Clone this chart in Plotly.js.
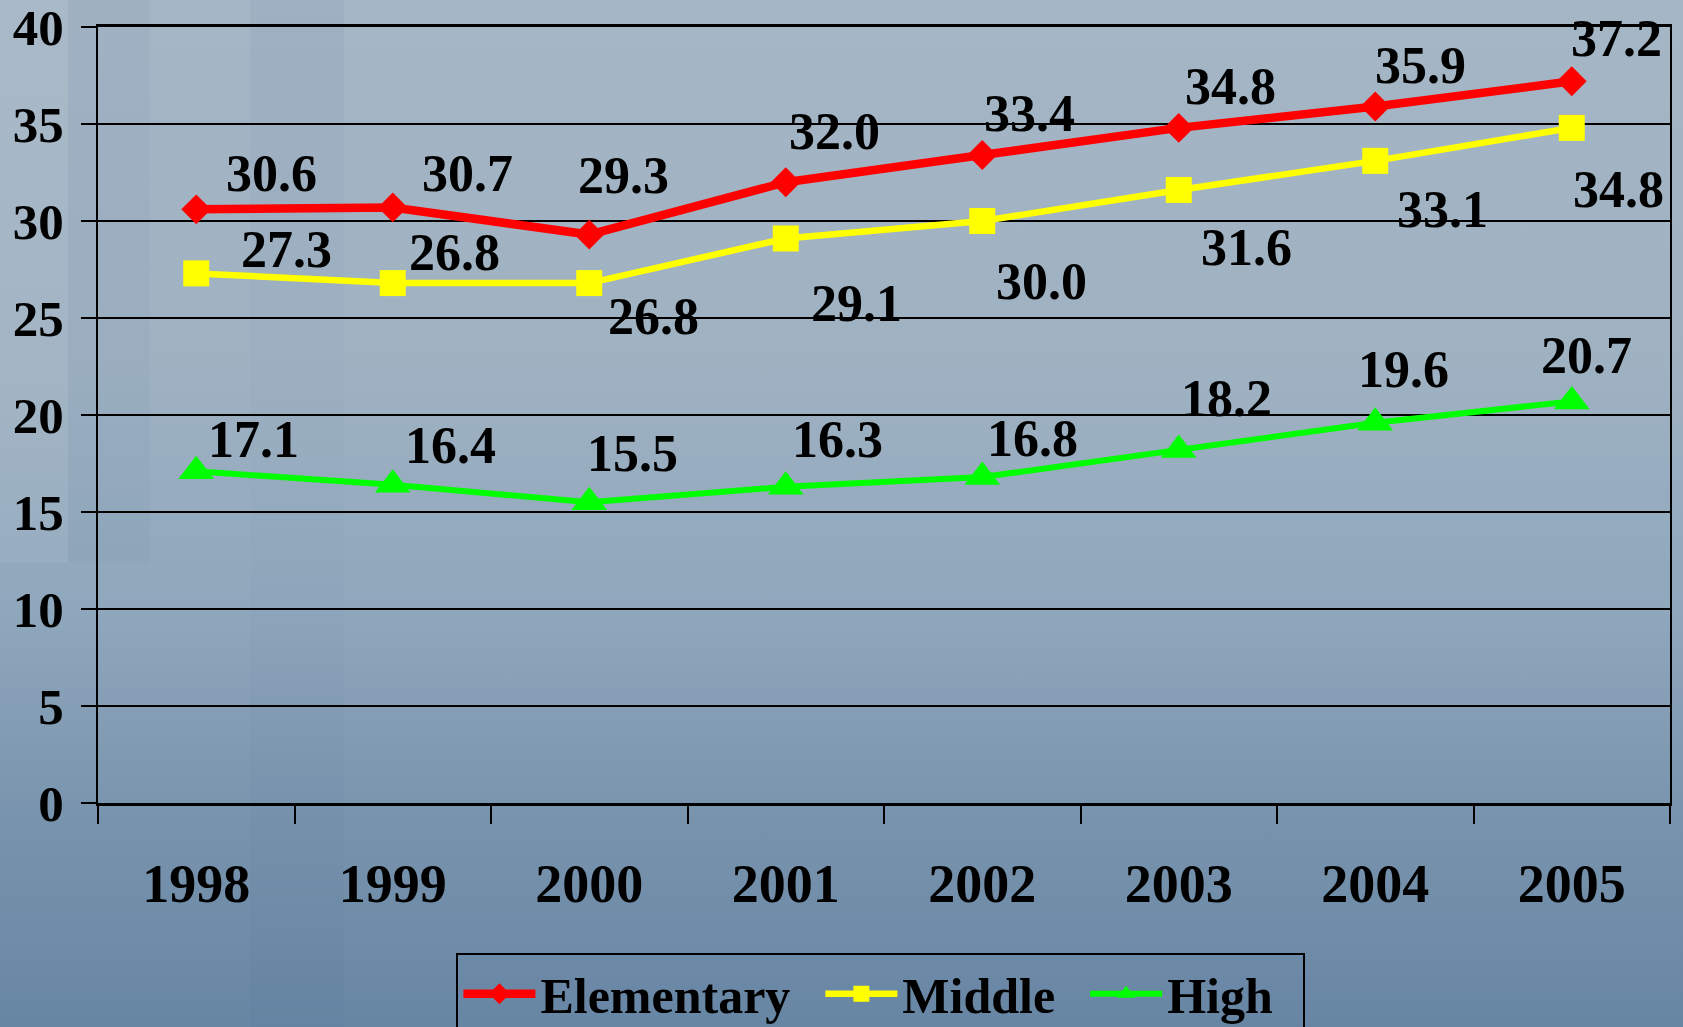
<!DOCTYPE html>
<html>
<head>
<meta charset="utf-8">
<script src="https://cdn.plot.ly/plotly-3.0.1.min.js"></script>
<style>
html,body{margin:0;padding:0;width:1683px;height:1027px;overflow:hidden;}
body{position:relative;background:linear-gradient(to bottom,#a5b6c5 0%,#9fb2c2 35%,#8fa7bc 60%,#7893ad 80%,#6786a4 100%);}
.band{position:absolute;pointer-events:none;}
#chart{position:absolute;left:0;top:0;width:1683px;height:1027px;}
</style>
</head>
<body>
<div class="band" style="left:0;top:0;width:68px;height:563px;background:rgba(255,255,255,0.05);"></div>
<div class="band" style="left:68px;top:0;width:82px;height:563px;background:rgba(60,80,120,0.04);"></div>
<div class="band" style="left:250px;top:0;width:94px;height:1027px;background:linear-gradient(to bottom,rgba(70,95,140,0.07),rgba(70,95,140,0.02) 45%,rgba(60,90,130,0.06));"></div>
<div id="chart"></div>
<script>
var years = ['1998','1999','2000','2001','2002','2003','2004','2005'];
var elementary = [30.6, 30.7, 29.3, 32.0, 33.4, 34.8, 35.9, 37.2];
var middle = [27.3, 26.8, 26.8, 29.1, 30.0, 31.6, 33.1, 34.8];
var high = [17.1, 16.4, 15.5, 16.3, 16.8, 18.2, 19.6, 20.7];
var seriesNames = ['Elementary', 'Middle', 'High'];

// label pixel offsets (style only)
var labelDx = [
  [75, 75, 34, 49, 47, 52, 45, 45],
  [90, 62, 64, 71, 59, 68, 67, 47],
  [57, 58, 43, 52, 50, 48, 28, 15]
];
var labelDy = [
  [36, 34, 59, 51, 42, 41, 41, 43],
  [24, 31, -33, -65, -60, -58, -49, -62],
  [32, 39, 49, 47, 39, 51, 53, 46]
];

var font = 'Liberation Serif, Times New Roman, serif';
var all = [elementary, middle, high];
var colors = ['#ff0000', '#ffff00', '#00ff00'];
var symbols = ['diamond', 'square', 'triangle-up'];
var sizes = [23, 26, 31];
var widths = [8.5, 6.5, 6];
var pad = '\u00a0\u00a0';

var traces = all.map(function(vals, i){
  return {
    x: years, y: vals, type: 'scatter', mode: 'lines+markers', name: seriesNames[i] + pad,
    line: {color: colors[i], width: widths[i]},
    marker: {symbol: symbols[i], size: sizes[i], color: colors[i]},
    cliponaxis: false
  };
});

var annotations = [];
all.forEach(function(vals, i){
  vals.forEach(function(v, j){
    annotations.push({
      x: j, y: v, xref: 'x', yref: 'y', text: v.toFixed(1), showarrow: false,
      xshift: labelDx[i][j], yshift: labelDy[i][j],
      font: {family: font, size: 52, color: '#000000', weight: 'bold'}
    });
  });
});

var layout = {
  width: 1683, height: 1027,
  paper_bgcolor: 'rgba(0,0,0,0)', plot_bgcolor: 'rgba(0,0,0,0)',
  margin: {l: 98, r: 13, t: 27, b: 224, autoexpand: false},
  showlegend: true,
  legend: {
    orientation: 'h', x: 0.228, xanchor: 'left', y: -0.193, yanchor: 'top',
    bgcolor: 'rgba(0,0,0,0)', bordercolor: '#000000', borderwidth: 2,
    font: {family: font, size: 50, color: '#000000', weight: 'bold'},
    itemwidth: 72, traceorder: 'normal'
  },
  xaxis: {
    type: 'category', range: [-0.5, 7.5], showgrid: false,
    showline: true, linecolor: '#000000', linewidth: 3, mirror: true,
    ticks: 'outside', tickson: 'boundaries', ticklen: 18, tickcolor: '#000000', tickwidth: 2,
    tickfont: {family: font, size: 54, color: '#000000', weight: 'bold'},
    ticklabelstandoff: 31, ticklabeloverflow: 'allow', fixedrange: true
  },
  yaxis: {
    range: [0, 40], dtick: 5, tick0: 0,
    showgrid: true, gridcolor: '#000000', gridwidth: 2, zeroline: false,
    showline: true, linecolor: '#000000', linewidth: 2, mirror: true,
    ticks: 'outside', ticklen: 15, tickcolor: '#000000', tickwidth: 2,
    tickfont: {family: font, size: 51, color: '#000000', weight: 'bold'},
    ticklabelstandoff: 7, ticklabeloverflow: 'allow', fixedrange: true
  },
  annotations: annotations
};

Plotly.newPlot('chart', traces, layout, {staticPlot: true, displayModeBar: false});
</script>
</body>
</html>
